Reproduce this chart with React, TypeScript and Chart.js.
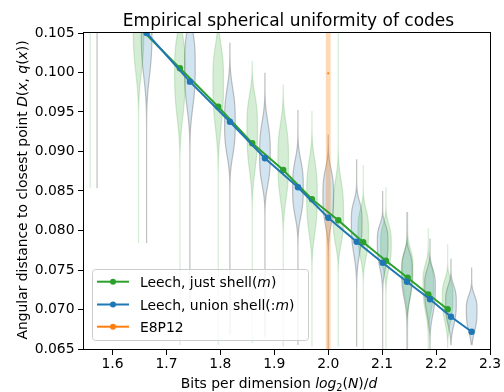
import React, { useEffect, useRef } from "react";
import { Chart, registerables } from "chart.js";
Chart.register(...registerables);

// ---------- data ----------
const xTickValues = [1.6, 1.7, 1.8, 1.9, 2.0, 2.1, 2.2, 2.3];
const yTickValues = [0.065, 0.07, 0.075, 0.08, 0.085, 0.09, 0.095, 0.1, 0.105];

// Leech, just shell(m)
const justX = [1.5584, 1.6482, 1.7249, 1.7959, 1.859, 1.9165, 1.9698, 2.0186, 2.0649, 2.107, 2.1473, 2.1855, 2.2215];
const justY = [0.1125, 0.1058, 0.10053, 0.09567, 0.09104, 0.08766, 0.08395, 0.08129, 0.07851, 0.07618, 0.07403, 0.07192, 0.07003];
const justViolinMax = [0.125, 0.118, 0.112, 0.107, 0.10137, 0.09842, 0.09504, 0.1062, 0.08829, 0.08547, 0.08234, 0.08028, 0.07825];
const justViolinMode = [0.118, 0.10601, 0.10032, 0.09905, 0.0931, 0.08892, 0.08449, 0.08196, 0.07993, 0.07841, 0.07525, 0.07335, 0.0717];
const justViolinMin = [0.08534, 0.07838, 0.0655, 0.0655, 0.06576, 0.0653, 0.0653, 0.0653, 0.064, 0.064, 0.064, 0.064, 0.0652];
const justSpreadUp = [0.0051, 0.0051, 0.0051, 0.0051, 0.0046, 0.0053, 0.0051, 0.0051, 0.0032, 0.0028, 0.0028, 0.0028, 0.0025];
const justSpreadDown = [0.0051, 0.007, 0.007, 0.007, 0.0063, 0.0058, 0.0057, 0.0043, 0.0039, 0.0038, 0.0042, 0.0042, 0.0038];

// Leech, union shell(:m)
const unionX = [1.5712, 1.6631, 1.7434, 1.8176, 1.8826, 1.9438, 2.0, 2.0527, 2.1009, 2.146, 2.1887, 2.2276, 2.266];
const unionY = [0.1125, 0.105, 0.09884, 0.09377, 0.08914, 0.08547, 0.08162, 0.07858, 0.07592, 0.07352, 0.07129, 0.06909, 0.06719];
const unionViolinMax = [0.125, 0.118, 0.112, 0.1037, 0.0999, 0.09525, 0.09209, 0.08901, 0.085, 0.08234, 0.079, 0.07634, 0.07533];
const unionViolinMode = [0.118, 0.10551, 0.10095, 0.09361, 0.08955, 0.08538, 0.08449, 0.0812, 0.07867, 0.075, 0.07297, 0.07095, 0.06993];
const unionViolinMin = [0.08534, 0.07842, 0.071, 0.0668, 0.0665, 0.0655, 0.064, 0.06529, 0.064, 0.064, 0.064, 0.06556, 0.06556];
const unionSpreadUp = [0.0051, 0.0051, 0.0051, 0.0051, 0.0049, 0.0041, 0.0038, 0.0029, 0.0024, 0.0025, 0.0025, 0.0024, 0.0022];
const unionSpreadDown = [0.0051, 0.007, 0.0063, 0.0048, 0.0044, 0.0042, 0.0044, 0.0049, 0.0039, 0.0042, 0.0042, 0.0034, 0.0032];

// E8P12
const e8X = [2.0];
const e8Y = [0.0999];
const e8ViolinMax = [0.16];
const e8ViolinMode = [0.0999];
const e8ViolinMin = [0.03];
const e8SpreadUp = [0.2];
const e8SpreadDown = [0.2];

// ---------- styles ----------
const FONT = "'DejaVu Sans', sans-serif";
const GREEN = "#2ca02c";
const BLUE = "#1f77b4";
const ORANGE = "#ff7f0e";
const BASE = 13.9;

type Seg = { t: string; italic?: boolean; sub?: boolean };

function drawRich(ctx: CanvasRenderingContext2D, segs: Seg[], x: number, y: number, size: number, align: "left" | "center") {
  const parts = segs.map((s) => {
    const fs = s.sub ? size * 0.7 : size;
    const font = `${s.italic ? "italic " : ""}${fs}px ${FONT}`;
    ctx.font = font;
    return { ...s, font, w: ctx.measureText(s.t).width, dy: s.sub ? size * 0.22 : 0 };
  });
  const total = parts.reduce((a, p) => a + p.w, 0);
  let cx = align === "center" ? x - total / 2 : x;
  ctx.textAlign = "left";
  ctx.textBaseline = "alphabetic";
  for (const p of parts) {
    ctx.font = p.font;
    ctx.fillText(p.t, cx, y + p.dy);
    cx += p.w;
  }
}

const violinGroups = [
  { pos: unionX, max: unionViolinMax, mode: unionViolinMode, min: unionViolinMin, up: unionSpreadUp, down: unionSpreadDown, halfPx: 5.3, fill: "rgba(31,119,180,0.2)", edge: "rgba(140,140,140,0.55)" },
  { pos: justX, max: justViolinMax, mode: justViolinMode, min: justViolinMin, up: justSpreadUp, down: justSpreadDown, halfPx: 5.3, fill: "rgba(44,160,44,0.2)", edge: "rgba(44,160,44,0.2)" },
  { pos: e8X, max: e8ViolinMax, mode: e8ViolinMode, min: e8ViolinMin, up: e8SpreadUp, down: e8SpreadDown, halfPx: 2.4, fill: "rgba(255,127,14,0.3)", edge: "" },
];

const violinPlugin = {
  id: "violins",
  beforeDatasetsDraw(chart: any) {
    const { ctx, chartArea: a, scales } = chart;
    const xs = scales.x, ys = scales.y;
    ctx.save();
    ctx.beginPath();
    ctx.rect(a.left, a.top, a.right - a.left, a.bottom - a.top);
    ctx.clip();
    for (const g of violinGroups) {
      for (let i = 0; i < g.pos.length; i++) {
        const cx = xs.getPixelForValue(g.pos[i]);
        const hw = g.halfPx;
        const N = 200;
        const pts: [number, number][] = [];
        for (let k = 0; k <= N; k++) {
          const v = g.max[i] - ((g.max[i] - g.min[i]) * k) / N;
          const s = v > g.mode[i] ? g.up[i] : g.down[i];
          const w = hw * Math.exp(-Math.pow(Math.abs(v - g.mode[i]) / s, 3));
          pts.push([w, ys.getPixelForValue(v)]);
        }
        ctx.beginPath();
        pts.forEach(([w, py], k) => (k === 0 ? ctx.moveTo(cx + w, py) : ctx.lineTo(cx + w, py)));
        for (let k = pts.length - 1; k >= 0; k--) ctx.lineTo(cx - pts[k][0], pts[k][1]);
        ctx.closePath();
        ctx.fillStyle = g.fill;
        ctx.fill();
        if (g.edge) {
          ctx.strokeStyle = g.edge;
          ctx.lineWidth = 1.2;
          ctx.stroke();
        }
      }
    }
    ctx.restore();
  },
  afterDraw(chart: any) {
    const { ctx, chartArea: a } = chart;
    ctx.save();
    // frame
    ctx.strokeStyle = "#000";
    ctx.lineWidth = 1;
    ctx.strokeRect(Math.round(a.left) - 0.5, Math.round(a.top) - 0.5, Math.round(a.right - a.left) + 1, Math.round(a.bottom - a.top) + 1);
    ctx.fillStyle = "#000";
    // title
    drawRich(ctx, [{ t: "Empirical spherical uniformity of codes" }], (a.left + a.right) / 2 + 1.5, 25.5, 17, "center");
    // x title
    drawRich(
      ctx,
      [{ t: "Bits per dimension " }, { t: "log", italic: true }, { t: "2", sub: true }, { t: "(" }, { t: "N", italic: true }, { t: ")/" }, { t: "d", italic: true }],
      279,
      388,
      BASE,
      "center"
    );
    // y title
    ctx.save();
    ctx.translate(27, 190);
    ctx.rotate(-Math.PI / 2);
    drawRich(
      ctx,
      [{ t: "Angular distance to closest point " }, { t: "D", italic: true }, { t: "(" }, { t: "x", italic: true }, { t: ", " }, { t: "q", italic: true }, { t: "(" }, { t: "x", italic: true }, { t: "))" }],
      0,
      0,
      BASE,
      "center"
    );
    ctx.restore();
    // legend
    const lx = 92.5, ly = 269.5, lw = 216, lh = 71;
    ctx.beginPath();
    (ctx as any).roundRect(lx, ly, lw, lh, 3);
    ctx.fillStyle = "rgba(255,255,255,0.8)";
    ctx.fill();
    ctx.strokeStyle = "#cccccc";
    ctx.lineWidth = 1;
    ctx.stroke();
    const entries: { color: string; segs: Seg[]; y: number }[] = [
      { color: GREEN, segs: [{ t: "Leech, just shell(" }, { t: "m", italic: true }, { t: ")" }], y: 281.7 },
      { color: BLUE, segs: [{ t: "Leech, union shell(:" }, { t: "m", italic: true }, { t: ")" }], y: 304.5 },
      { color: ORANGE, segs: [{ t: "E8P12" }], y: 326.7 },
    ];
    for (const e of entries) {
      ctx.strokeStyle = e.color;
      ctx.lineWidth = 2;
      ctx.beginPath();
      ctx.moveTo(97, e.y);
      ctx.lineTo(129, e.y);
      ctx.stroke();
      ctx.fillStyle = e.color;
      ctx.beginPath();
      ctx.arc(113, e.y, 3, 0, Math.PI * 2);
      ctx.fill();
      ctx.fillStyle = "#000";
      drawRich(ctx, e.segs, 140, e.y + 5, BASE, "left");
    }
    ctx.restore();
  },
};

export default function App() {
  const ref = useRef<HTMLCanvasElement | null>(null);
  useEffect(() => {
    if (!ref.current) return;
    Chart.defaults.font.family = FONT;
    const toPts = (xs: number[], ys: number[]) => xs.map((x, i) => ({ x, y: ys[i] }));
    const chart = new Chart(ref.current, {
      type: "scatter",
      data: {
        datasets: [
          {
            label: "E8P12",
            data: toPts(e8X, e8Y),
            borderColor: ORANGE,
            backgroundColor: ORANGE,
            showLine: true,
            pointStyle: "rect",
            pointRadius: 1.3,
            pointBorderWidth: 0,
            borderWidth: 2,
          },
          {
            label: "Leech, union shell(:m)",
            data: toPts(unionX, unionY),
            borderColor: BLUE,
            backgroundColor: BLUE,
            showLine: true,
            borderWidth: 2,
            pointRadius: 3.2,
            pointBorderWidth: 0,
          },
          {
            label: "Leech, just shell(m)",
            data: toPts(justX, justY),
            borderColor: GREEN,
            backgroundColor: GREEN,
            showLine: true,
            borderWidth: 2,
            pointRadius: 3.2,
            pointBorderWidth: 0,
          },
        ],
      },
      options: {
        responsive: false,
        animation: false,
        devicePixelRatio: 1,
        layout: { padding: { top: 33, right: 14, left: 0, bottom: 0 } },
        plugins: { legend: { display: false }, title: { display: false }, tooltip: { enabled: false } },
        scales: {
          x: {
            type: "linear",
            min: 1.547,
            max: 2.3,
            afterBuildTicks: (s: any) => {
              s.ticks = xTickValues.map((v) => ({ value: v }));
            },
            afterFit: (s: any) => {
              s.height = 43;
            },
            ticks: {
              color: "#000",
              font: { size: BASE, family: FONT },
              padding: 1,
              maxRotation: 0,
              autoSkip: false,
              callback: (v: any) => Number(v).toFixed(1),
            },
            grid: { drawOnChartArea: false, drawTicks: true, tickLength: 6, tickColor: "#000", tickWidth: 1 },
            border: { display: false },
          },
          y: {
            type: "linear",
            min: 0.065,
            max: 0.105,
            afterBuildTicks: (s: any) => {
              s.ticks = yTickValues.map((v) => ({ value: v }));
            },
            afterFit: (s: any) => {
              s.width = 84;
            },
            ticks: {
              color: "#000",
              font: { size: BASE, family: FONT },
              padding: 3.5,
              autoSkip: false,
              callback: (v: any) => Number(v).toFixed(3),
            },
            grid: { drawOnChartArea: false, drawTicks: true, tickLength: 6, tickColor: "#000", tickWidth: 1 },
            border: { display: false },
          },
        },
      },
      plugins: [violinPlugin],
    });
    return () => chart.destroy();
  }, []);
  return (
    <div style={{ position: "absolute", left: 0, top: 0, width: 504, height: 392, background: "#fff" }}>
      <canvas ref={ref} width={504} height={392} />
    </div>
  );
}
